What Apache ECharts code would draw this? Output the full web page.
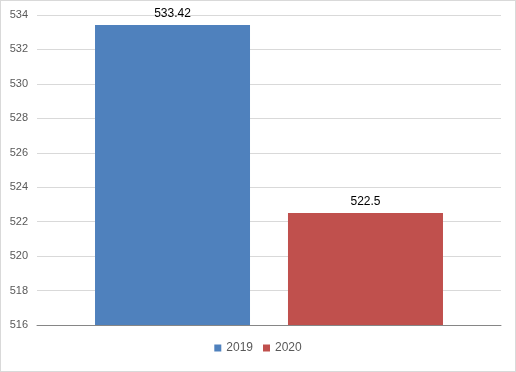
<!DOCTYPE html>
<html><head><meta charset="utf-8">
<script src="https://cdn.jsdelivr.net/npm/echarts@6/dist/echarts.min.js"></script>
<style>
html,body{margin:0;padding:0;background:#fff;}
#c{width:516px;height:372px;box-sizing:border-box;border:1px solid #d9d9d9;}
</style></head><body>
<div id="c"></div>
<script>
const categories = [''];
const seriesNames = ['2019', '2020'];
const values2019 = [533.42];
const values2020 = [522.5];
const yTicks = [516, 518, 520, 522, 524, 526, 528, 530, 532, 534];

const chart = echarts.init(document.getElementById('c'), null, {width:514, height:370});
const fontFamily = 'Liberation Sans, Arial, sans-serif';
chart.setOption({
  animation: false,
  textStyle: {fontFamily},
  grid: {left: 36, right: 14, top: 14, bottom: 46, containLabel: false},
  legend: {
    bottom: 12, left: 'center', itemWidth: 7, itemHeight: 7, itemGap: 10,
    icon: 'rect',
    textStyle: {color: '#595959', fontSize: 12, fontFamily},
    data: seriesNames
  },
  xAxis: {
    type: 'category', data: categories,
    axisLine: {lineStyle: {color: '#868686', width: 1}},
    axisTick: {show: false}, axisLabel: {show: false}
  },
  yAxis: {
    type: 'value', min: yTicks[0], max: yTicks[yTicks.length-1], interval: 2,
    axisLine: {show: false}, axisTick: {show: false},
    axisLabel: {color: '#595959', fontSize: 11, margin: 9, fontFamily},
    splitLine: {lineStyle: {color: '#d9d9d9', width: 1}}
  },
  series: [
    {name: seriesNames[0], type: 'bar', data: values2019, barWidth: 155, barGap: '24.5%',
     itemStyle: {color: '#4F81BD'},
     label: {show: true, position: 'top', distance: 5, color: '#000', fontSize: 12, fontFamily}},
    {name: seriesNames[1], type: 'bar', data: values2020, barWidth: 155,
     itemStyle: {color: '#C0504D'},
     label: {show: true, position: 'top', distance: 5, color: '#000', fontSize: 12, fontFamily}}
  ]
});
</script>
</body></html>
